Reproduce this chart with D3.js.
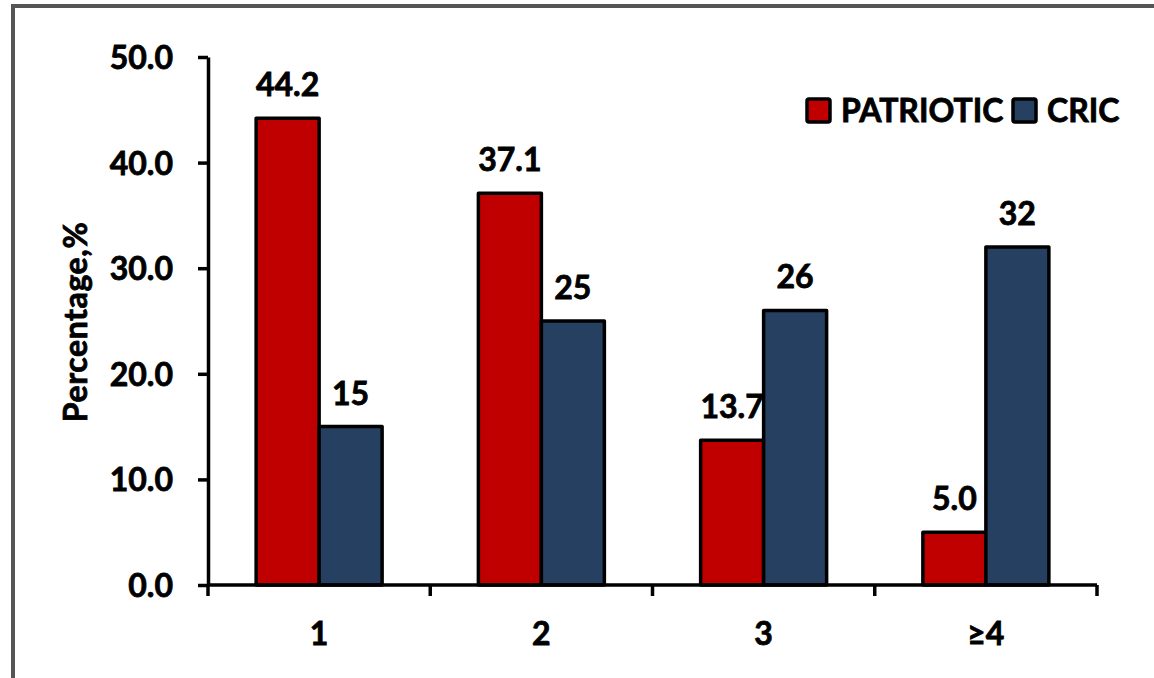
<!DOCTYPE html>
<html>
<head>
<meta charset="utf-8">
<script src="https://cdn.jsdelivr.net/npm/d3@7"></script>
<style>
  html, body { margin: 0; padding: 0; background: #fff; }
  svg { display: block; }
  text { font-family: Lato, "Open Sans", sans-serif; font-weight: bold; fill: #000;
         stroke: #000; stroke-width: 0.8px; }
</style>
</head>
<body>
<svg id="chart" width="1154" height="678"></svg>
<script>
// Number of items per group, and share of each cohort (%)
const categories = ["1", "2", "3", "\u22654"];
const seriesNames = ["PATRIOTIC", "CRIC"];
const patriotic = [44.2, 37.1, 13.7, 5.0];
const cric = [15, 25, 26, 32];
const yTicks = [0, 10, 20, 30, 40, 50];
const colors = ["#c00000", "#254061"];

const svg = d3.select("#chart");

// Outer frame (runs off the right and bottom edges)
svg.append("rect")
  .attr("x", 13).attr("y", 6)
  .attr("width", 1200).attr("height", 720)
  .attr("fill", "#fff")
  .attr("stroke", "#555").attr("stroke-width", 4);

const plot = { left: 208, right: 1097, top: 57, bottom: 585 };

const x = d3.scaleBand().domain(categories).range([plot.left, plot.right]).padding(0);
const x1 = d3.scaleBand().domain(seriesNames).range([0, x.bandwidth()])
  .paddingInner(0).paddingOuter(0.764);
const y = d3.scaleLinear().domain([0, 50]).range([plot.bottom, plot.top]);

const series = [patriotic, cric];
const fmt = [d3.format(".1f"), d3.format("d")];

// Bars and value labels, series by series so later bars sit over earlier labels
series.forEach((vals, si) => {
  const g = svg.append("g");
  g.selectAll("rect").data(vals).join("rect")
    .attr("x", (d, i) => x(categories[i]) + x1(seriesNames[si]))
    .attr("y", d => y(d))
    .attr("width", x1.bandwidth())
    .attr("height", d => y(0) - y(d))
    .attr("fill", colors[si])
    .attr("stroke", "#000").attr("stroke-width", 3.5)
    .attr("stroke-linejoin", "round");
  g.selectAll("text").data(vals).join("text")
    .attr("x", (d, i) => x(categories[i]) + x1(seriesNames[si]) + x1.bandwidth() / 2)
    .attr("y", d => y(d) - 22)
    .attr("text-anchor", "middle")
    .attr("font-size", 32)
    .text(d => fmt[si](d));
});

// Y axis
const yAxis = d3.axisLeft(y).tickValues(yTicks).tickFormat(d3.format(".1f"))
  .tickSize(10).tickSizeOuter(0).tickPadding(25);
const gy = svg.append("g").attr("transform", `translate(${plot.left},0)`).call(yAxis);
gy.selectAll("path, line").attr("stroke", "#000").attr("stroke-width", 3.5);
gy.selectAll("text").attr("font-size", 32).attr("font-family", "Lato, 'Open Sans', sans-serif")
  .attr("font-weight", "bold").attr("dy", "0.36em");

// X axis: baseline, ticks at group boundaries, labels centred under groups
const gx = svg.append("g");
gx.append("line")
  .attr("x1", plot.left).attr("x2", plot.right)
  .attr("y1", y(0)).attr("y2", y(0))
  .attr("stroke", "#000").attr("stroke-width", 3.5);
const bounds = categories.map(c => x(c)).concat([x.range()[1]]);
gx.selectAll("line.tick").data(bounds).join("line")
  .attr("class", "tick")
  .attr("x1", d => d).attr("x2", d => d)
  .attr("y1", y(0)).attr("y2", y(0) + 11)
  .attr("stroke", "#000").attr("stroke-width", 3.5);
gx.selectAll("text").data(categories).join("text")
  .attr("x", d => x(d) + x.bandwidth() / 2)
  .attr("y", 645)
  .attr("text-anchor", "middle")
  .attr("font-size", 32)
  .text(d => d);

// Y axis title
svg.append("text")
  .attr("transform", "translate(87,322) rotate(-90)")
  .attr("text-anchor", "middle")
  .attr("font-size", 32)
  .attr("letter-spacing", 0.6)
  .text("Percentage,%");

// Legend
const legend = svg.append("g");
const legendX = [807, 1013];
seriesNames.forEach((name, i) => {
  legend.append("rect")
    .attr("x", legendX[i]).attr("y", 99)
    .attr("width", 23).attr("height", 23)
    .attr("fill", colors[i])
    .attr("stroke", "#000").attr("stroke-width", 3.5)
    .attr("rx", 2);
  legend.append("text")
    .attr("x", legendX[i] + 34).attr("y", 122)
    .attr("font-size", 32)
    .text(name);
});
</script>
</body>
</html>
